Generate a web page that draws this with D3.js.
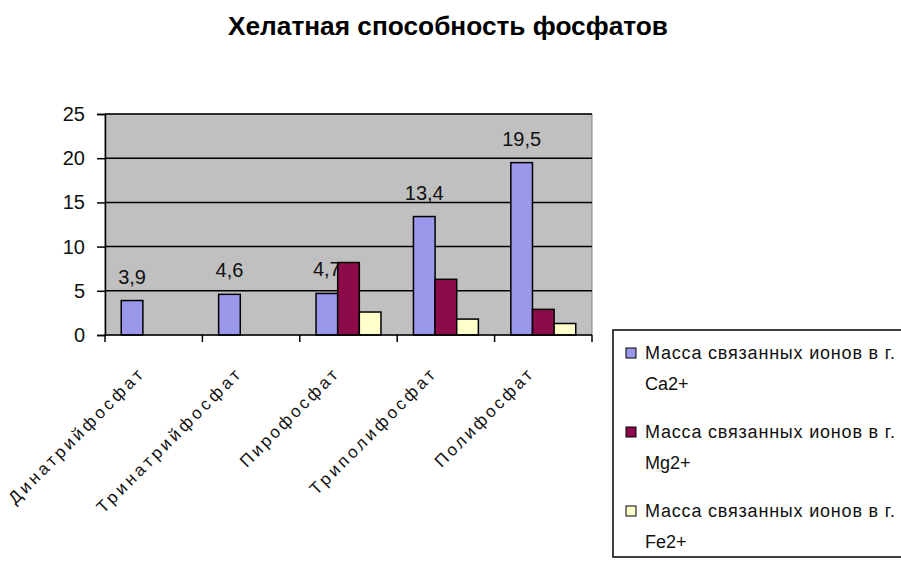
<!DOCTYPE html>
<html><head><meta charset="utf-8">
<script src="https://cdn.jsdelivr.net/npm/d3@7"></script>
<style>
html,body{margin:0;padding:0;background:#fff;overflow:hidden}
svg{display:block;font-family:"Liberation Sans",Arial,sans-serif}
</style></head><body>
<svg id="c" width="901" height="562"></svg>
<script>
const title = "Хелатная способность фосфатов";
const categories = ["Динатрийфосфат","Тринатрийфосфат","Пирофосфат","Триполифосфат","Полифосфат"];
const seriesNames = ["Масса связанных ионов в г. Ca2+","Масса связанных ионов в г. Mg2+","Масса связанных ионов в г. Fe2+"];
const seriesShort = ["Ca2+","Mg2+","Fe2+"];
const caValues = [3.9, 4.6, 4.7, 13.4, 19.5];
const mgValues = [null, null, 8.2, 6.3, 2.9];
const feValues = [null, null, 2.6, 1.8, 1.3];
const yTicks = [0,5,10,15,20,25];
const colors = ["#9b97ea","#8e0b4b","#ffffcc"];

const svg = d3.select("#c");
const L=105, R=592, T=114, B=335;

const x = d3.scaleBand().domain(categories).range([L,R]).paddingInner(0).paddingOuter(0);
const xs = d3.scaleBand().domain([0,1,2]).range([0,x.bandwidth()]).paddingInner(0).paddingOuter(0.75);
const y = d3.scaleLinear().domain([0,25]).range([B,T]);

// title
svg.append("text").attr("x",448).attr("y",35).attr("text-anchor","middle")
  .attr("font-weight","bold").attr("font-size",25).attr("textLength",440)
  .attr("lengthAdjust","spacingAndGlyphs").attr("fill","#000").text(title);

// plot background
svg.append("rect").attr("x",L).attr("y",T).attr("width",R-L).attr("height",B-T)
  .attr("fill","#c0c0c0").attr("stroke","#808080").attr("stroke-width",1);

// gridlines
svg.append("g").selectAll("line").data(yTicks.filter(d=>d>0)).join("line")
  .attr("x1",L).attr("x2",R).attr("y1",d=>y(d)).attr("y2",d=>y(d))
  .attr("stroke","#000").attr("stroke-width",1.5);

// bars
const series = [caValues, mgValues, feValues];
series.forEach((vals,si)=>{
  svg.append("g").selectAll("rect").data(categories.map((c,i)=>({c,v:vals[i]})).filter(d=>d.v!=null)).join("rect")
    .attr("x",d=>x(d.c)+xs(si)).attr("width",xs.bandwidth())
    .attr("y",d=>y(d.v)).attr("height",d=>y(0)-y(d.v))
    .attr("fill",colors[si]).attr("stroke","#000").attr("stroke-width",1.5);
});

// data labels (Ca)
svg.append("g").selectAll("text").data(categories.map((c,i)=>({c,v:caValues[i]}))).join("text")
  .attr("x",d=>x(d.c)+xs(0)+xs.bandwidth()/2).attr("y",d=>y(d.v)-17)
  .attr("text-anchor","middle").attr("font-size",20).attr("fill","#111")
  .text(d=>String(d.v).replace(".",","));

// y axis
const ya = svg.append("g").attr("transform",`translate(${L},0)`)
  .call(d3.axisLeft(y).tickValues(yTicks).tickSize(8).tickPadding(12).tickFormat(d3.format("d")));
ya.select(".domain").attr("stroke","#000").attr("stroke-width",1.5);
ya.selectAll(".tick line").attr("stroke","#000").attr("stroke-width",1.5);
ya.selectAll(".tick text").attr("font-size",20).attr("font-family","Liberation Sans, Arial").attr("fill","#111");

// x axis
const bounds = categories.map(c=>x(c)).concat([R]);
svg.append("line").attr("x1",L).attr("x2",R).attr("y1",B).attr("y2",B).attr("stroke","#000").attr("stroke-width",1.5);
svg.append("g").selectAll("line").data(bounds).join("line")
  .attr("x1",d=>d).attr("x2",d=>d).attr("y1",B).attr("y2",B+7).attr("stroke","#000").attr("stroke-width",1.5);

svg.append("g").selectAll("text").data(categories).join("text")
  .attr("transform",d=>`translate(${x(d)+x.bandwidth()/2-14},372) rotate(-45)`)
  .attr("text-anchor","end").attr("dy","0.35em").attr("font-size",17)
  .attr("textLength",d=>d.length*13).attr("lengthAdjust","spacing")
  .attr("fill","#111").text(d=>d);

// legend
const lg = svg.append("g");
lg.append("rect").attr("x",613).attr("y",330).attr("width",300).attr("height",227)
  .attr("fill","#fff").attr("stroke","#000").attr("stroke-width",1.5);
seriesNames.forEach((s,i)=>{
  const yy = 353 + i*79;
  lg.append("rect").attr("x",626).attr("y",yy-5).attr("width",10).attr("height",10)
    .attr("fill",colors[i]).attr("stroke","#000").attr("stroke-width",1);
  lg.append("text").attr("x",645).attr("y",yy).attr("dy","0.35em").attr("font-size",18)
    .attr("letter-spacing",0.8).attr("fill","#111").text(s.replace(" "+seriesShort[i],""));
  lg.append("text").attr("x",645).attr("y",yy+31).attr("dy","0.35em").attr("font-size",18)
    .attr("fill","#111").text(seriesShort[i]);
});
</script></body></html>
